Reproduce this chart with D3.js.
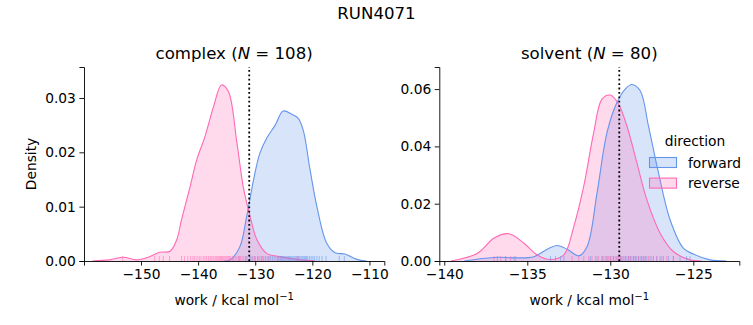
<!DOCTYPE html>
<html>
<head>
<meta charset="utf-8">
<script src="https://cdn.jsdelivr.net/npm/d3@7"></script>
<style>
  body { margin: 0; background: #fff; }
  svg { font-family: "DejaVu Sans", sans-serif; }
</style>
</head>
<body>
<script>
// KDE curves: [work, density]
const complexForward = [[-135.5,0],[-134.4,0.0002],[-132.7,0.0026],[-131.5,0.0082],[-130.3,0.0149],[-129.2,0.0198],[-128.0,0.0226],[-126.5,0.0250],[-125.1,0.0276],[-123.6,0.0270],[-122.5,0.0263],[-121.6,0.0241],[-120.4,0.0168],[-119.2,0.0100],[-117.5,0.0033],[-116.0,0.0015],[-114.3,0.0013],[-112.2,0.0003],[-110.5,0]];
const complexReverse = [[-158.5,0],[-155.5,0.0002],[-153.1,0.0007],[-150.8,0.0002],[-148.5,0.0008],[-146.7,0.0016],[-144.9,0.0018],[-143.75,0.0039],[-142.9,0.0076],[-141.4,0.0137],[-140.25,0.0186],[-138.8,0.0229],[-137.3,0.0284],[-135.9,0.0324],[-134.7,0.0312],[-133.2,0.0217],[-132.1,0.0137],[-130.9,0.0082],[-129.7,0.0039],[-128.0,0.0014],[-125.7,0.0008],[-122.7,0.0003],[-119.5,0]];
const solventForward = [[-138.8,0],[-136.8,0.0013],[-135.8,0.0011],[-134.6,0.0015],[-133.8,0.0041],[-133.2,0.0054],[-132.6,0.0041],[-131.9,0.0018],[-131.4,0.0050],[-130.8,0.0237],[-130.2,0.0448],[-129.6,0.0553],[-129.1,0.0600],[-128.7,0.0616],[-128.2,0.0594],[-127.7,0.0471],[-127.1,0.0308],[-126.4,0.0144],[-125.6,0.0045],[-125.0,0.0024],[-124.0,0.0004],[-123.0,0]];
const solventReverse = [[-139.6,0],[-138.0,0.0027],[-137.0,0.0080],[-136.1,0.0095],[-135.2,0.0062],[-134.4,0.0021],[-133.6,0.0005],[-132.8,0.0021],[-132.2,0.0120],[-131.6,0.0261],[-131.0,0.0448],[-130.5,0.0565],[-130.0,0.0579],[-129.5,0.0547],[-129.0,0.0471],[-128.4,0.0343],[-127.8,0.0214],[-127.0,0.0097],[-126.2,0.0033],[-125.2,0.0004],[-124.5,0]];

// rug samples (estimated)
const complexForwardRug = [-132.8,-131.6,-130.9,-130.4,-130.0,-129.6,-129.2,-128.9,-128.5,-128.2,-127.9,-127.6,-127.3,-127.0,-126.7,-126.4,-126.1,-125.9,-125.6,-125.4,-125.2,-125.0,-124.8,-124.6,-124.4,-124.2,-124.0,-123.8,-123.6,-123.4,-123.2,-123.0,-122.8,-122.6,-122.4,-122.2,-122.0,-121.8,-121.6,-121.4,-121.2,-121.0,-120.8,-120.5,-120.2,-119.9,-119.6,-119.2,-118.8,-118.3,-117.6,-115.3,-114.4];
const complexReverseRug = [-153.2,-147.6,-146.8,-146.1,-145.0,-142.9,-142.4,-141.8,-141.3,-140.9,-140.6,-140.2,-139.8,-139.5,-139.1,-138.8,-138.5,-138.2,-137.9,-137.7,-137.4,-137.2,-136.9,-136.7,-136.5,-136.3,-136.1,-135.9,-135.7,-135.5,-135.3,-135.1,-134.9,-134.7,-134.5,-134.3,-134.0,-133.8,-133.5,-133.2,-132.9,-132.6,-132.3,-132.0,-131.7,-131.4,-131.0,-130.6,-130.1,-129.5,-128.7,-127.6,-125.8,-122.5];
const solventForwardRug = [-136.8,-136.3,-135.8,-133.6,-133.3,-133.0,-132.8,-131.2,-130.8,-130.5,-130.2,-130.0,-129.8,-129.6,-129.4,-129.3,-129.1,-129.0,-128.9,-128.8,-128.7,-128.6,-128.5,-128.4,-128.3,-128.2,-128.1,-128.0,-127.9,-127.8,-127.6,-127.4,-127.2,-127.0,-126.8,-126.5,-126.2,-125.8,-125.4,-125.2];
const solventReverseRug = [-137.0,-136.6,-136.3,-136.0,-135.7,-132.3,-131.9,-131.6,-131.3,-131.1,-130.9,-130.7,-130.5,-130.4,-130.3,-130.2,-130.1,-130.0,-129.9,-129.8,-129.7,-129.6,-129.5,-129.4,-129.3,-129.2,-129.1,-128.9,-128.8,-128.6,-128.5,-128.3,-128.1,-127.9,-127.7,-127.5,-127.2,-126.9,-126.6,-126.2];

const complexXTicks = [-150, -140, -130, -120, -110];
const complexYTicks = [0, 0.01, 0.02, 0.03];
const solventXTicks = [-140, -135, -130, -125];
const solventYTicks = [0, 0.02, 0.04, 0.06];
const directions = ["forward", "reverse"];
const colors = { forward: "#6495ED", reverse: "#FF69B4" };

const width = 753, height = 325;
const fs = "13.8px", fsBig = "16.6px";
const svg = d3.select("body").append("svg")
  .attr("width", width).attr("height", height);

svg.append("text")
  .attr("x", 376.5).attr("y", 19)
  .attr("text-anchor", "middle")
  .attr("font-size", fsBig)
  .text("RUN4071");

function panel(opts) {
  const x = d3.scaleLinear().domain(opts.xDomain).range([opts.left, opts.right]);
  const y = d3.scaleLinear().domain(opts.yDomain).range([261, 67]);
  const g = svg.append("g");

  const curve = d3.curveCatmullRom.alpha(0.5);
  const area = d3.area()
    .x(d => x(d[0])).y0(y(0)).y1(d => Math.min(y(0), y(d[1])))
    .curve(curve);
  const line = d3.line()
    .x(d => x(d[0])).y(d => y(d[1]))
    .curve(curve);

  // forward first then reverse
  opts.series.forEach(s => {
    g.append("path").datum(s.pts)
      .attr("d", area)
      .attr("fill", colors[s.dir]).attr("fill-opacity", 0.25);
  });
  opts.series.forEach(s => {
    g.append("path").datum(s.pts)
      .attr("d", line)
      .attr("fill", "none")
      .attr("stroke", colors[s.dir]).attr("stroke-width", 1.1);
  });

  // rug
  opts.series.forEach(s => {
    g.selectAll(null).data(s.rug).enter().append("line")
      .attr("x1", d => x(d)).attr("x2", d => x(d))
      .attr("y1", y(0)).attr("y2", y(0) - 5)
      .attr("stroke", colors[s.dir]).attr("stroke-opacity", 0.55)
      .attr("stroke-width", 1);
  });

  // dotted reference line
  g.append("line")
    .attr("x1", x(opts.mark)).attr("x2", x(opts.mark))
    .attr("y1", 261).attr("y2", 67)
    .attr("stroke", "#000").attr("stroke-width", 1.8)
    .attr("stroke-dasharray", "1.8,2.6");

  const xAxis = d3.axisBottom(x).tickValues(opts.xTicks)
    .tickSizeOuter(0).tickSize(4.6).tickPadding(3.2)
    .tickFormat(d => d3.format("d")(d).replace("-", "\u2212"));
  const gx = g.append("g").attr("transform", "translate(0,261)").call(xAxis);
  const yAxis = d3.axisLeft(y).tickValues(opts.yTicks)
    .tickSizeOuter(0).tickSize(4.6).tickPadding(3.5)
    .tickFormat(d3.format(".2f"));
  const gy = g.append("g").attr("transform", `translate(${opts.left},0)`).call(yAxis);
  [gx, gy].forEach(a => {
    a.attr("font-family", "DejaVu Sans").attr("font-size", fs);
    a.selectAll("path, line").attr("stroke", "#000").attr("stroke-width", 0.9);
    a.selectAll("text").attr("fill", "#000");
  });

  // axis label
  const xl = g.append("text")
    .attr("x", (opts.left + opts.right) / 2).attr("y", 305)
    .attr("text-anchor", "middle").attr("font-size", fs);
  xl.append("tspan").text("work / kcal mol");
  xl.append("tspan").attr("dy", -5.5).attr("font-size", "10px").text("\u22121");

  // title
  const t = g.append("text")
    .attr("x", (opts.left + opts.right) / 2).attr("y", 59)
    .attr("text-anchor", "middle").attr("font-size", fsBig);
  t.append("tspan").text(opts.name + " (");
  t.append("tspan").attr("font-style", "italic").text("N");
  t.append("tspan").text(" = " + opts.n + ")");

  return { x, y, g };
}

panel({
  name: "complex", n: 108,
  left: 84, right: 384.3,
  xDomain: [-159.98, -107.4], yDomain: [0, 0.0357],
  xTicks: complexXTicks, yTicks: complexYTicks, mark: -131.05,
  series: [
    { dir: "forward", pts: complexForward, rug: complexForwardRug },
    { dir: "reverse", pts: complexReverse, rug: complexReverseRug }
  ]
});

panel({
  name: "solvent", n: 80,
  left: 439.3, right: 739.3,
  xDomain: [-140.3, -122.23], yDomain: [0, 0.0677],
  xTicks: solventXTicks, yTicks: solventYTicks, mark: -129.46,
  series: [
    { dir: "forward", pts: solventForward, rug: solventForwardRug },
    { dir: "reverse", pts: solventReverse, rug: solventReverseRug }
  ]
});

// y label (left panel only)
svg.append("text")
  .attr("transform", "translate(36,164) rotate(-90)")
  .attr("text-anchor", "middle").attr("font-size", fs)
  .text("Density");

// legend
const leg = svg.append("g");
leg.append("text").attr("x", 695).attr("y", 146)
  .attr("text-anchor", "middle").attr("font-size", fs).text("direction");
directions.forEach((dir, i) => {
  const yy = 157.5 + i * 20.6;
  leg.append("rect")
    .attr("x", 649.5).attr("y", yy).attr("width", 27).attr("height", 10)
    .attr("fill", colors[dir]).attr("fill-opacity", 0.25)
    .attr("stroke", colors[dir]).attr("stroke-width", 1.1);
  leg.append("text").attr("x", 688).attr("y", yy + 10)
    .attr("font-size", fs).text(dir);
});
</script>
</body>
</html>
